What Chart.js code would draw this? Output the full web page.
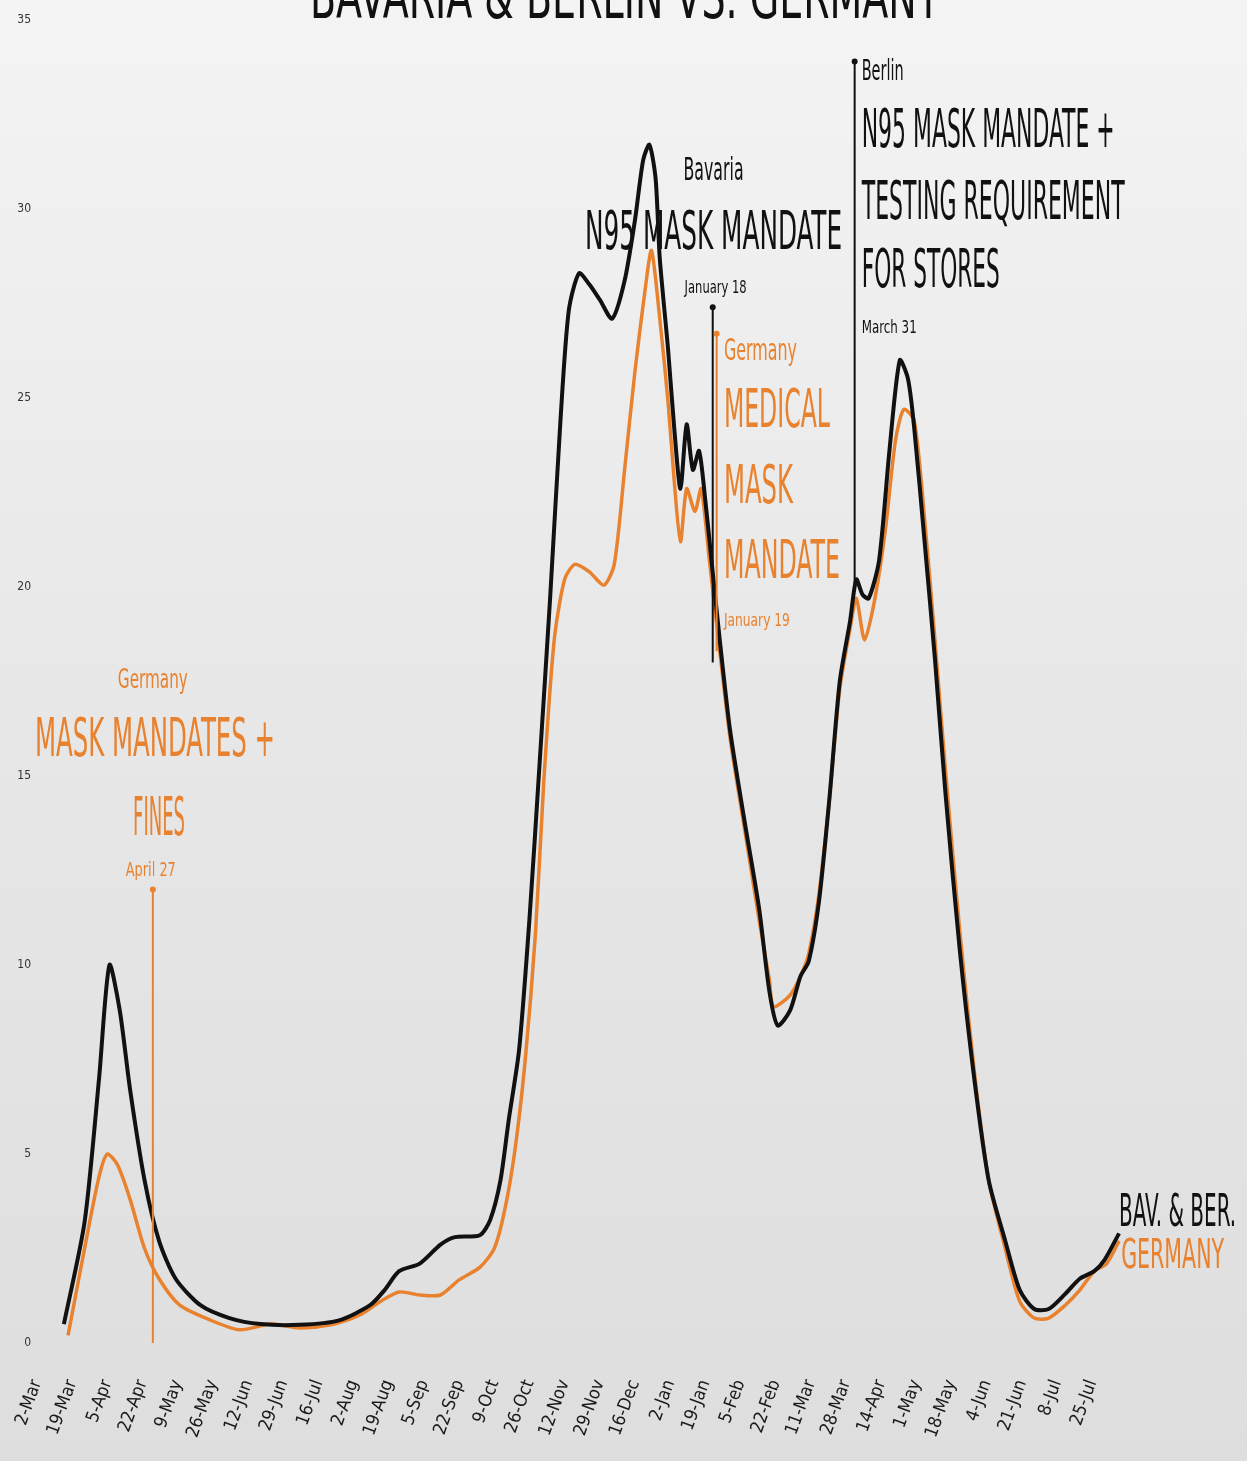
<!DOCTYPE html>
<html>
<head>
<meta charset="utf-8">
<script src="https://cdn.jsdelivr.net/npm/chart.js@4.4.0/dist/chart.umd.min.js"></script>
<style>
html, body { margin: 0; padding: 0; }
body { width: 1247px; height: 1461px; overflow: hidden;
       background: linear-gradient(#f4f4f4, #e8e8e8 45%, #dedede); }
#wrap { position: relative; width: 1247px; height: 1461px; }
</style>
</head>
<body>
<div id="wrap"><canvas id="chart"></canvas></div>
<script>
// x labels, one every 17 days from 2 Mar 2020
const tickLabels = ['2-Mar','19-Mar','5-Apr','22-Apr','9-May','26-May','12-Jun','29-Jun','16-Jul','2-Aug',
  '19-Aug','5-Sep','22-Sep','9-Oct','26-Oct','12-Nov','29-Nov','16-Dec','2-Jan','19-Jan','5-Feb',
  '22-Feb','11-Mar','28-Mar','14-Apr','1-May','18-May','4-Jun','21-Jun','8-Jul','25-Jul'];
const yTicks = [0, 5, 10, 15, 20, 25, 30, 35];

// Bavaria & Berlin (days since 2 Mar 2020)
const bavDays = [13,23,30,35,40,45,52,59,67,79,93,108,127,146,161,168,175,185,195,202,
  214,219,224,228,233,238,243,248,253,257,262,267,272,278,284,289,293,296,299,301,
  305,308,311,314,317,320,323,326,330,335,342,349,354,358,364,369,373,378,383,388,
  393,396,399,402,407,412,417,421,424,429,434,439,446,453,460,468,475,482,489,497,
  504,511,516,523];
const bavValues = [0.5,3.2,7.0,10.0,8.8,6.7,4.3,2.7,1.7,1.0,0.66,0.5,0.48,0.6,1.0,1.4,1.9,2.1,2.6,2.8,
  2.85,3.25,4.3,5.9,7.75,11.2,15.4,19.7,24.4,27.3,28.3,28.0,27.6,27.1,28.1,29.7,31.3,31.7,30.8,28.7,
  26.3,24.2,22.6,24.3,23.1,23.6,22.3,20.7,18.6,16.2,13.8,11.5,9.3,8.4,8.8,9.7,10.1,11.7,14.4,17.5,
  19.1,20.2,19.8,19.7,20.7,23.6,26.0,25.5,24.2,21.2,18.1,14.6,10.4,7.0,4.3,2.7,1.4,0.9,0.9,1.3,
  1.7,1.9,2.2,2.9];

// Germany
const gerDays = [15,23,30,34,39,45,52,59,69,84,98,113,127,142,156,166,175,185,195,204,
  214,221,226,231,236,241,245,250,255,260,267,274,279,284,289,294,297,301,305,308,
  311,314,318,321,325,330,335,342,349,354,356,364,369,373,378,383,388,393,396,400,
  405,410,415,419,424,429,434,439,446,453,460,468,475,482,489,497,504,511,517,523];
const gerValues = [0.2,2.5,4.4,5.0,4.7,3.8,2.5,1.7,1.0,0.6,0.35,0.5,0.4,0.48,0.74,1.1,1.35,1.27,1.27,1.67,
  2.0,2.5,3.5,5.1,7.5,10.9,14.9,18.6,20.2,20.6,20.4,20.05,20.6,23.1,25.7,27.9,28.9,27.1,24.9,22.8,
  21.2,22.6,22.0,22.6,20.7,18.3,16.0,13.6,11.2,9.6,8.9,9.2,9.7,10.3,11.9,14.4,17.3,18.9,19.7,18.6,
  19.7,21.5,23.9,24.7,24.4,21.8,18.6,15.2,10.9,7.2,4.3,2.5,1.1,0.66,0.66,1.0,1.4,1.9,2.1,2.7];

const BLACK = '#111111';
const ORANGE = '#e8822f';
const FONT = '"Liberation Sans Narrow", "DejaVu Sans Condensed", sans-serif';

function txt(ctx, s, x, y, size, width, color, align) {
  ctx.font = size + 'px ' + FONT;
  ctx.fillStyle = color;
  ctx.textAlign = align || 'left';
  ctx.textBaseline = 'middle';
  ctx.fillText(s, x, y, width);
}

// marker lines: [day, top value, bottom value, colour]
const markers = [
  [56, 12.0, 0, ORANGE],
  [326.6, 27.4, 18.0, BLACK],
  [328.5, 26.7, 18.3, ORANGE],
  [395.2, 33.9, 19.9, BLACK]
];

const notesPlugin = {
  id: 'notes',
  afterDatasetsDraw(chart) {
    const ctx = chart.ctx, xs = chart.scales.x, ys = chart.scales.y;
    const X = d => xs.getPixelForValue(d), Y = v => ys.getPixelForValue(v);
    ctx.save();
    markers.forEach(m => {
      ctx.strokeStyle = m[3];
      ctx.lineWidth = 2;
      ctx.beginPath();
      ctx.moveTo(X(m[0]), Y(m[1]));
      ctx.lineTo(X(m[0]), Y(m[2]));
      ctx.stroke();
      ctx.fillStyle = m[3];
      ctx.beginPath();
      ctx.arc(X(m[0]), Y(m[1]), 3, 0, Math.PI * 2);
      ctx.fill();
    });

    // title, cut off at the top
    txt(ctx, 'BAVARIA & BERLIN VS. GERMANY', 625, 2, 62, 630, BLACK, 'center');

    // Germany, April
    txt(ctx, 'Germany', X(56), Y(17.5), 26, 70, ORANGE, 'center');
    txt(ctx, 'MASK MANDATES +', X(57), Y(15.9), 54, 240, ORANGE, 'center');
    txt(ctx, 'FINES', X(59), Y(13.8), 54, 52, ORANGE, 'center');
    txt(ctx, 'April 27', X(55), Y(12.5), 20, 50, ORANGE, 'center');

    // Bavaria, January
    txt(ctx, 'Bavaria', X(327), Y(31.0), 32, 60, BLACK, 'center');
    txt(ctx, 'N95 MASK MANDATE', X(327), Y(29.3), 54, 257, BLACK, 'center');
    txt(ctx, 'January 18', X(328), Y(27.9), 18, 62, BLACK, 'center');

    // Germany, January
    const gx = X(332);
    txt(ctx, 'Germany', gx, Y(26.2), 30, 73, ORANGE);
    txt(ctx, 'MEDICAL', gx, Y(24.6), 54, 106, ORANGE);
    txt(ctx, 'MASK', gx, Y(22.6), 54, 69, ORANGE);
    txt(ctx, 'MANDATE', gx, Y(20.6), 54, 116, ORANGE);
    txt(ctx, 'January 19', gx, Y(19.1), 18, 66, ORANGE);

    // Berlin, March
    const bx = X(398.6);
    txt(ctx, 'Berlin', bx, Y(33.6), 28, 42, BLACK);
    txt(ctx, 'N95 MASK MANDATE +', bx, Y(32.0), 54, 253, BLACK);
    txt(ctx, 'TESTING REQUIREMENT', bx, Y(30.1), 54, 263, BLACK);
    txt(ctx, 'FOR STORES', bx, Y(28.3), 54, 138, BLACK);
    txt(ctx, 'March 31', bx, Y(26.85), 18, 55, BLACK);

    // end labels
    txt(ctx, 'BAV. & BER.', X(523), Y(3.4), 44, 117, BLACK);
    txt(ctx, 'GERMANY', X(524), Y(2.25), 40, 103, ORANGE);
    ctx.restore();
  }
};

new Chart(document.getElementById('chart'), {
  type: 'line',
  data: {
    datasets: [
      {
        label: 'Bavaria & Berlin',
        data: bavDays.map((d, i) => ({ x: d, y: bavValues[i] })),
        borderColor: BLACK,
        borderWidth: 4,
        pointRadius: 0,
        tension: 0.25
      },
      {
        label: 'Germany',
        data: gerDays.map((d, i) => ({ x: d, y: gerValues[i] })),
        borderColor: ORANGE,
        borderWidth: 3.5,
        pointRadius: 0,
        tension: 0.25
      }
    ]
  },
  options: {
    responsive: true,
    maintainAspectRatio: false,
    animation: false,
    layout: { padding: { top: 20, right: 10, left: 0, bottom: 0 } },
    plugins: { legend: { display: false }, tooltip: { enabled: false } },
    scales: {
      x: {
        type: 'linear',
        min: 0,
        max: 580,
        afterBuildTicks: s => { s.ticks = tickLabels.map((_, i) => ({ value: i * 17 })); },
        afterFit: s => { s.height = 118; s.paddingLeft = 0; s.paddingRight = 0; },
        ticks: {
          autoSkip: false,
          minRotation: 70,
          maxRotation: 70,
          padding: 34,
          color: '#1a1a1a',
          font: { size: 18, family: FONT },
          callback: (v, i) => tickLabels[i]
        },
        grid: { display: false, drawTicks: false },
        border: { display: false }
      },
      y: {
        min: 0,
        max: 35,
        afterBuildTicks: s => { s.ticks = yTicks.map(v => ({ value: v })); },
        afterFit: s => { s.width = 37; },
        ticks: { padding: 6, color: '#333', font: { size: 12, family: FONT } },
        grid: { display: false, drawTicks: false },
        border: { display: false }
      }
    }
  },
  plugins: [notesPlugin]
});
</script>
</body>
</html>
